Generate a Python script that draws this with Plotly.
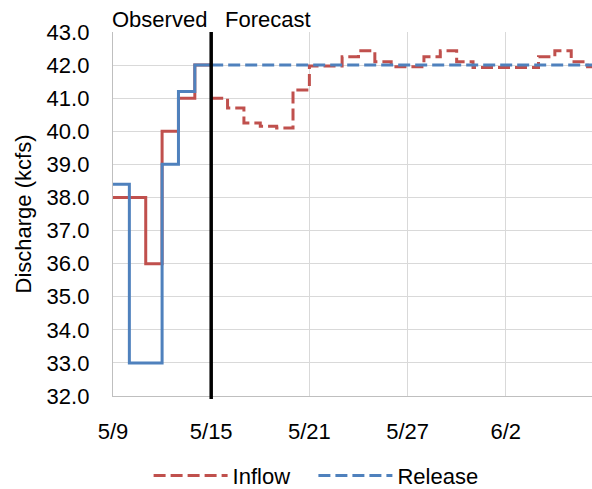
import pandas as pd
import plotly.graph_objects as go

# observed period (daily values starting 5/9)
obs_dates = pd.date_range("2019-05-09", periods=6, freq="D")
obs_inflow = [38.0, 38.0, 36.0, 40.0, 41.0, 42.0]
obs_release = [38.4, 33.0, 33.0, 39.0, 41.2, 42.0]

# forecast period (daily values starting 5/15)
fc_dates = pd.date_range("2019-05-15", periods=24, freq="D")
fc_inflow = [41.0, 40.7, 40.25, 40.15, 40.1, 41.25, 41.97, 41.97, 42.25, 42.43,
             42.1, 41.95, 41.95, 42.25, 42.43, 42.1, 41.93, 41.93, 41.93, 41.93,
             42.25, 42.43, 42.1, 41.95]
fc_release = [42.0] * 24

RED = "#C0504D"
BLUE = "#4F81BD"
FONT = "Liberation Sans, Arial, sans-serif"
DASH = "12px,5px"
NBSP = "\u00a0"


def step(dates, vals):
    # repeat last value one day further so the final step is drawn
    x = list(dates) + [dates[-1] + pd.Timedelta(days=1)]
    return x, list(vals) + [vals[-1]]


fig = go.Figure()
x, y = step(obs_dates, obs_inflow)
fig.add_trace(go.Scatter(x=x, y=y, mode="lines", line=dict(color=RED, width=3, shape="hv"),
                         showlegend=False, hoverinfo="skip"))
x, y = step(fc_dates, fc_inflow)
fig.add_trace(go.Scatter(x=x, y=y, mode="lines", name="Inflow" + NBSP * 3,
                         line=dict(color=RED, width=3, shape="hv", dash=DASH)))
x, y = step(obs_dates, obs_release)
fig.add_trace(go.Scatter(x=x, y=y, mode="lines", line=dict(color=BLUE, width=3, shape="hv"),
                         showlegend=False, hoverinfo="skip"))
x, y = step(fc_dates, fc_release)
fig.add_trace(go.Scatter(x=x, y=y, mode="lines", name="Release",
                         line=dict(color=BLUE, width=3, shape="hv", dash=DASH)))

split = pd.Timestamp("2019-05-15")
fig.add_shape(type="line", x0=split, x1=split, yref="y domain", y0=-0.008, y1=1,
              line=dict(color="black", width=3.5))
fig.add_annotation(x=split, y=1, yref="paper", text="Observed", showarrow=False,
                   xanchor="right", yanchor="middle", xshift=-3, yshift=13, borderpad=0,
                   font=dict(size=22, color="black"))
fig.add_annotation(x=split, y=1, yref="paper", text="Forecast", showarrow=False,
                   xanchor="left", yanchor="middle", xshift=13, yshift=13, borderpad=0,
                   font=dict(size=22, color="black"))

start = pd.Timestamp("2019-05-09")
fig.update_xaxes(
    type="date", range=[start, start + pd.Timedelta(days=29.27)],
    tick0=start, dtick=6 * 86400000, tickformat="%-m/%-d",
    showgrid=True, gridcolor="#D9D9D9", gridwidth=1.3,
    showline=True, linecolor="#BFBFBF", linewidth=1.3,
    ticks="outside", ticklen=15, tickcolor="rgba(0,0,0,0)",
    tickfont=dict(size=22, color="black"), zeroline=False, automargin=False,
)
fig.update_yaxes(
    range=[32, 43], dtick=1, tickformat=".1f",
    showgrid=True, gridcolor="#D9D9D9", gridwidth=1.3,
    showline=True, linecolor="#BFBFBF", linewidth=1.3,
    ticks="outside", ticklen=18, tickcolor="rgba(0,0,0,0)",
    tickfont=dict(size=22, color="black"), zeroline=False, automargin=False,
    title=dict(text="Discharge (kcfs)", font=dict(size=22, color="black"), standoff=8),
)
fig.update_layout(
    width=592, height=489,
    margin=dict(l=113, r=0, t=32, b=93, autoexpand=False),
    paper_bgcolor="white", plot_bgcolor="white",
    font=dict(family=FONT, color="black"),
    legend=dict(orientation="h", x=0.424, xanchor="center", y=0.027, yref="container",
                yanchor="middle", font=dict(size=22), itemwidth=74,
                traceorder="normal"),
)

# drop the default page margin so the 592x489 figure fills the window exactly
fig.write_html("out.html", config={"displayModeBar": False},
               post_script="document.body.style.margin='0';")
